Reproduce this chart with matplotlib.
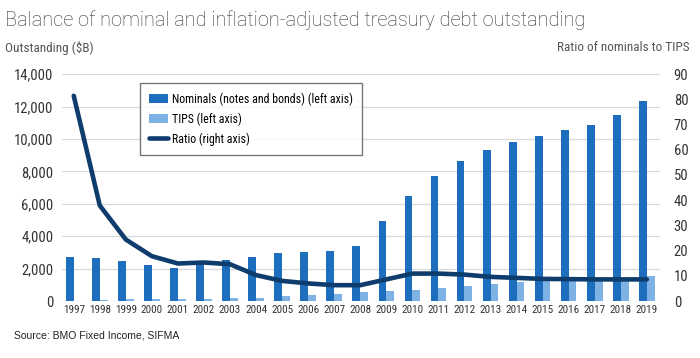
import matplotlib
matplotlib.use("Agg")
import matplotlib.pyplot as plt
import numpy as np
from matplotlib import font_manager as fm

years = [str(y) for y in range(1997, 2020)]
nominals = [2740, 2640, 2490, 2220, 2060, 2350, 2530, 2740, 2940, 3030, 3110, 3400,
            4940, 6510, 7720, 8610, 9310, 9840, 10190, 10540, 10850, 11490, 12350]
tips = [30, 50, 100, 120, 140, 150, 170, 220, 330, 400, 460, 560,
        620, 660, 800, 900, 1030, 1150, 1250, 1260, 1300, 1340, 1540]
ratio = [81.4, 37.9, 24.4, 17.8, 14.9, 15.3, 14.6, 10.3, 8.0, 7.0, 6.3, 6.3,
         8.6, 10.9, 10.9, 10.5, 9.6, 9.2, 8.8, 8.7, 8.6, 8.6, 8.6]
left_ticks = [0, 2000, 4000, 6000, 8000, 10000, 12000, 14000]
right_ticks = [0, 10, 20, 30, 40, 50, 60, 70, 80, 90]

names = {f.name for f in fm.fontManager.ttflist}
cond = next((n for n in ['Roboto Condensed', 'Asap Condensed', 'Archivo Narrow', 'Liberation Sans Narrow']
             if n in names), 'DejaVu Sans')
cfam = [cond, 'DejaVu Sans']
tfam = ['Roboto', 'Liberation Sans', 'DejaVu Sans']

fig = plt.figure(figsize=(7, 3.58), dpi=100)
ax = fig.add_axes([0.0886, 0.159, 0.854, 0.634])
ax2 = ax.twinx()

x = np.arange(len(years))
w = 0.3
c_nom = '#1d6fbe'
c_tips = '#7eb2e4'
c_line = '#0e3c6c'
b1 = ax.bar(x - w / 2, nominals, width=w, color=c_nom, label='Nominals (notes and bonds) (left axis)', zorder=2)
b2 = ax.bar(x + w / 2, tips, width=w, color=c_tips, label='TIPS (left axis)', zorder=2)
l1, = ax2.plot(x, ratio, color=c_line, lw=3.3, solid_capstyle='round', solid_joinstyle='round',
               label='Ratio (right axis)')

ax.set_xlim(-0.45, 22.5)
ax.set_ylim(0, 14000)
ax2.set_ylim(0, 90)
ax.set_yticks(left_ticks)
ax.set_yticklabels([f'{v:,}' for v in left_ticks], family=cfam, fontsize=10.5, color='#333333')
ax2.set_yticks(right_ticks)
ax2.set_yticklabels([str(v) for v in right_ticks], family=cfam, fontsize=10.5, color='#333333')
ax.set_xticks(x)
ax.set_xticklabels(years, family=cfam, fontsize=8, color='#333333')
ax.grid(axis='y', color='#d9d9d9', lw=0.9, zorder=0)
ax.set_axisbelow(True)
for a in (ax, ax2):
    for s in a.spines.values():
        s.set_visible(False)
    a.tick_params(length=0)
ax.tick_params(axis='y', pad=6)
ax2.tick_params(axis='y', pad=10)
ax.tick_params(axis='x', pad=3)

fig.text(0.007, 0.945, 'Balance of nominal and inflation-adjusted treasury debt outstanding',
         fontsize=14.4, color='#333333', family=tfam, fontweight='light', va='center')
fig.text(0.007, 0.866, 'Outstanding ($B)', fontsize=9.5, color='#555555', family=cfam, va='center')
fig.text(0.985, 0.866, 'Ratio of nominals to TIPS', fontsize=9.5, color='#555555', family=cfam,
         va='center', ha='right')
fig.text(0.02, 0.062, 'Source: BMO Fixed Income, SIFMA', fontsize=7.5, color='#222222',
         family=['Liberation Sans', 'DejaVu Sans'], va='center')

leg = ax.legend(handles=[b1, b2, l1], loc='upper left', bbox_to_anchor=(0.130, 0.960),
                borderaxespad=0, prop={'family': cfam, 'size': 8.6}, frameon=True, fancybox=False,
                edgecolor='#555555', handlelength=1.6, handleheight=0.7, borderpad=0.75,
                labelspacing=0.55, handletextpad=0.35)
leg.get_frame().set_linewidth(1.0)
leg.set_zorder(5)

fig.savefig('out.png', dpi=100, facecolor='white')
